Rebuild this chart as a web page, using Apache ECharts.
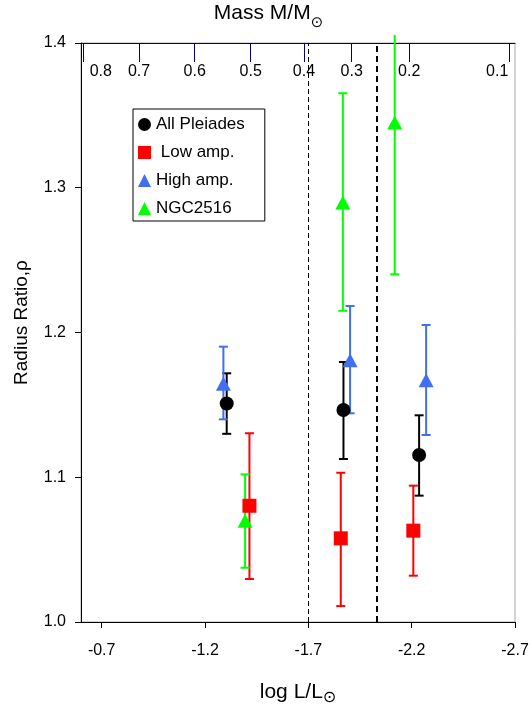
<!DOCTYPE html>
<html><head><meta charset="utf-8">
<script src="https://cdn.jsdelivr.net/npm/echarts@6/dist/echarts.min.js"></script>
<style>html,body{margin:0;padding:0;background:#fff}#c{width:532px;height:709px}</style>
</head><body><div id="c"></div>
<script>
// Bottom axis (log L/Lsun) tick values
const xTicks = [-0.7, -1.2, -1.7, -2.2, -2.7];
// Top axis: mass labels and the log L/Lsun value each sits at
const massLabels = ['0.8', '0.7', '0.6', '0.5', '0.4', '0.3', '0.2', '0.1'];
const massLogL = [-0.611, -0.881, -1.150, -1.421, -1.679, -1.910, -2.188, -2.672];
// Vertical dashed divider lines (log L/Lsun)
const dividers = [-1.7, -2.028];

// All Pleiades
const pleiadesX = [-1.305, -1.870, -2.236];
const pleiadesY = [1.151, 1.1465, 1.1154];
const pleiadesLo = [1.130, 1.1126, 1.0873];
const pleiadesHi = [1.1718, 1.1796, 1.1428];
// Low amp.
const lowX = [-1.415, -1.857, -2.208];
const lowY = [1.0803, 1.0578, 1.0631];
const lowLo = [1.0297, 1.011, 1.032];
const lowHi = [1.1304, 1.1031, 1.0942];
// High amp.
const highX = [-1.289, -1.902, -2.270];
const highY = [1.1646, 1.1808, 1.167];
const highLo = [1.140, 1.1442, 1.1292];
const highHi = [1.1902, 1.2183, 1.2052];
// NGC2516
const ngcX = [-1.394, -1.867, -2.118];
const ngcY = [1.070, 1.2898, 1.3451];
const ngcLo = [1.0375, 1.215, 1.2402];
const ngcHi = [1.102, 1.3653, 1.4055];

const FONT = '"Liberation Sans", Arial, sans-serif';
const Y_MIN = 1.0, Y_MAX = 1.4;

function pts(xs, ys) { return xs.map((x, i) => [x, ys[i]]); }
function bars(xs, lo, hi) { return xs.map((x, i) => [x, lo[i], hi[i]]); }

function errRender(params, api) {
  const x = api.value(0), lo = api.value(1), hi = api.value(2);
  const pLo = api.coord([x, lo]);
  const pHi = api.coord([x, hi]);
  const w = 4.5;
  const style = { stroke: api.visual('color'), lineWidth: 2 };
  const children = [
    { type: 'line', shape: { x1: pLo[0], y1: pLo[1], x2: pHi[0], y2: pHi[1] }, style: style }
  ];
  if (lo >= Y_MIN) children.push({ type: 'line', shape: { x1: pLo[0] - w, y1: pLo[1], x2: pLo[0] + w, y2: pLo[1] }, style: style });
  if (hi <= Y_MAX) children.push({ type: 'line', shape: { x1: pHi[0] - w, y1: pHi[1], x2: pHi[0] + w, y2: pHi[1] }, style: style });
  return { type: 'group', children: children };
}

function errSeries(name, color, data) {
  return { name: name, type: 'custom', renderItem: errRender, data: data,
    encode: { x: 0, y: [1, 2] }, itemStyle: { color: color }, clip: false, silent: true };
}
function markSeries(name, color, symbol, size, data) {
  return { name: name, type: 'scatter', symbol: symbol, symbolSize: size, data: data,
    itemStyle: { color: color, opacity: 1 }, silent: true };
}

const BLACK = '#000000', RED = '#ff0000', BLUE = '#4070f0', GREEN = '#00ff00';

const chart = echarts.init(document.getElementById('c'), null, { renderer: 'canvas' });
chart.setOption({
  animation: false,
  backgroundColor: '#fff',
  textStyle: { fontFamily: FONT },
  grid: { left: 81, right: 17, top: 43, bottom: 87, containLabel: false, outerBoundsMode: 'none',
    show: true, borderColor: '#a8a8a8', borderWidth: 1, backgroundColor: 'transparent' },
  legend: {
    orient: 'vertical', left: 133, top: 109, padding: [7, 20, 4, 5], itemGap: 11,
    itemWidth: 13, itemHeight: 13, borderColor: '#000', borderWidth: 1,
    textStyle: { fontSize: 17, color: '#000', fontFamily: FONT },
    formatter: function (n) { return n === 'Low amp.' ? ' ' + n : n; },
    data: [
      { name: 'All Pleiades', icon: 'circle' },
      { name: 'Low amp.', icon: 'rect' },
      { name: 'High amp.', icon: 'triangle' },
      { name: 'NGC2516', icon: 'triangle' }
    ]
  },
  xAxis: [
    {
      type: 'value', position: 'bottom', min: -2.7, max: -0.6, inverse: true,
      axisLine: { show: true, lineStyle: { color: '#000', width: 1 } },
      axisTick: { show: true, customValues: xTicks, length: 6, lineStyle: { color: '#000' } },
      axisLabel: { customValues: xTicks, fontSize: 16, color: '#000', margin: 21, fontFamily: FONT,
        formatter: function (v) { return v.toFixed(1); } },
      splitLine: { show: false },
      name: 'log L/L{s|⊙}', nameLocation: 'middle', nameGap: 56,
      nameTextStyle: { fontSize: 21, color: '#000', fontFamily: FONT,
        rich: { s: { fontSize: 16, color: '#000', fontFamily: 'DejaVu Sans', padding: [12, 0, 0, 0] } } }
    },
    {
      type: 'value', position: 'top', min: -2.7, max: -0.6, inverse: true,
      axisLine: { show: true, lineStyle: { color: '#000080', width: 1 } },
      axisTick: { show: true, customValues: massLogL, inside: true, length: 19, lineStyle: { color: '#000080' } },
      axisLabel: { customValues: massLogL, inside: true, margin: 21, fontSize: 16, color: '#000', fontFamily: FONT,
        formatter: function (v) {
          const i = massLogL.findIndex(function (m) { return Math.abs(m - v) < 1e-6; });
          if (i < 0) return '';
          if (i === 0) return '{a|' + massLabels[i] + '}';
          if (i === massLabels.length - 1) return '{b|' + massLabels[i] + '}';
          return massLabels[i];
        },
        rich: {
          a: { fontSize: 16, color: '#000', fontFamily: FONT, padding: [0, 0, 0, 35] },
          b: { fontSize: 16, color: '#000', fontFamily: FONT, padding: [0, 24, 0, 0] }
        } },
      splitLine: { show: false },
      name: 'Mass M/M{s|⊙}', nameLocation: 'middle', nameGap: 12,
      nameTextStyle: { fontSize: 21, color: '#000', fontFamily: FONT, padding: [0, 59, 0, 0],
        rich: { s: { fontSize: 15, color: '#000', fontFamily: 'DejaVu Sans', padding: [20, 0, 0, 0] } } }
    }
  ],
  yAxis: {
    type: 'value', min: Y_MIN, max: Y_MAX, interval: 0.1,
    axisLine: { show: true, lineStyle: { color: '#000', width: 1 } },
    axisTick: { show: true, length: 6, lineStyle: { color: '#000' } },
    axisLabel: { fontSize: 16, color: '#000', margin: 15, fontFamily: FONT,
      formatter: function (v) { return v.toFixed(1); } },
    splitLine: { show: false },
    name: 'Radius Ratio,ρ', nameLocation: 'middle', nameGap: 50, nameRotate: 90,
    nameTextStyle: { fontSize: 19, color: '#000', fontFamily: FONT, padding: [0, 0, 0, 20] }
  },
  series: [
    {
      name: 'dividers', type: 'line', data: [], silent: true,
      markLine: {
        silent: true, symbol: 'none', label: { show: false }, animation: false,
        data: dividers.map(function (v, i) {
          return { xAxis: v, lineStyle: i === 0
            ? { color: '#000', width: 1, type: [5, 3] }
            : { color: '#000', width: 2, type: [6, 4] } };
        })
      }
    },
    errSeries('All Pleiades err', BLACK, bars(pleiadesX, pleiadesLo, pleiadesHi)),
    markSeries('All Pleiades', BLACK, 'circle', 14, pts(pleiadesX, pleiadesY)),
    errSeries('Low amp. err', RED, bars(lowX, lowLo, lowHi)),
    markSeries('Low amp.', RED, 'rect', 14, pts(lowX, lowY)),
    errSeries('High amp. err', BLUE, bars(highX, highLo, highHi)),
    markSeries('High amp.', BLUE, 'triangle', [15, 14], pts(highX, highY)),
    errSeries('NGC2516 err', GREEN, bars(ngcX, ngcLo, ngcHi)),
    markSeries('NGC2516', GREEN, 'triangle', [15, 14], pts(ngcX, ngcY))
  ]
});
</script>
</body></html>
